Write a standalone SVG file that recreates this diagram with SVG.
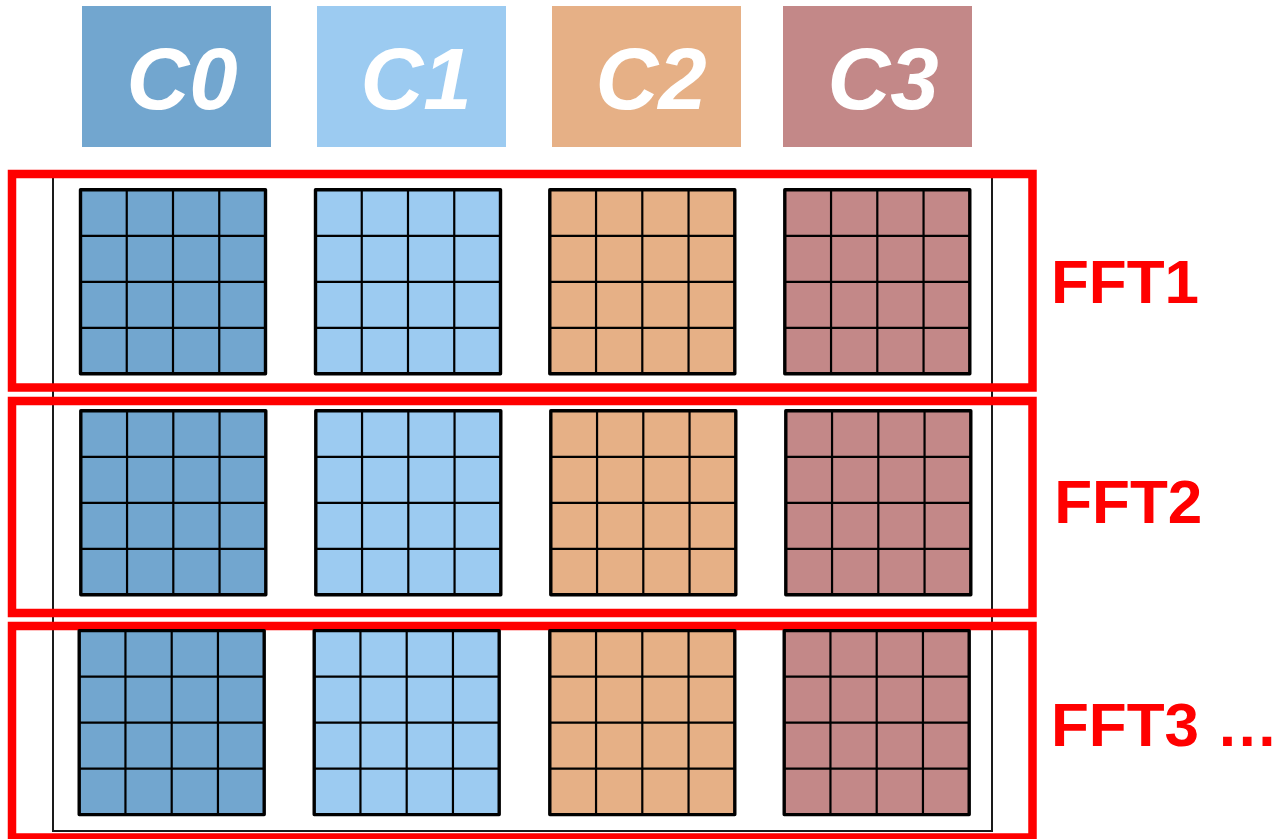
<svg xmlns="http://www.w3.org/2000/svg" xmlns:xlink="http://www.w3.org/1999/xlink" width="1283" height="839" viewBox="0 0 1283 839">
  <style>
    .hdr-text { font-family: "Liberation Sans", Arial, sans-serif; font-weight: bold; font-style: italic; font-size: 87px; fill: #ffffff; text-anchor: middle; }
    .fft { font-family: "Liberation Sans", Arial, sans-serif; font-weight: bold; font-size: 62px; fill: #ff0000; }
    .frame { fill: none; stroke: #ff0000; stroke-width: 8.5; }
    .outer { fill: none; stroke: #1a1a1a; stroke-width: 2; }
    .cell-border { stroke: #000000; stroke-width: 3.4; stroke-linejoin: round; }
    .cell-lines { fill: none; stroke: #000000; stroke-width: 2.2; }
    .c0 { fill: #72a6cf; }
    .c1 { fill: #9ccbf1; }
    .c2 { fill: #e6b086; }
    .c3 { fill: #c38888; }
  </style>
  <defs>
    <!-- 4x4 cell grid, 185 x 184 -->
    <path id="lines" class="cell-lines" d="M46.25 0V184M92.5 0V184M138.75 0V184M0 46H185M0 92H185M0 138H185"/>
    <rect id="box" class="cell-border" x="0" y="0" width="185" height="184"/>
  </defs>

  <rect width="1283" height="839" fill="#ffffff"/>

  <!-- header boxes -->
  <g id="hdr-c0"><rect class="c0" x="82" y="6" width="189" height="141"/><text class="hdr-text" x="182" y="109">C0</text></g>
  <g id="hdr-c1"><rect class="c1" x="317" y="6" width="189" height="141"/><text class="hdr-text" x="416" y="109">C1</text></g>
  <g id="hdr-c2"><rect class="c2" x="552" y="6" width="189" height="141"/><text class="hdr-text" x="651" y="109">C2</text></g>
  <g id="hdr-c3"><rect class="c3" x="783" y="6" width="189" height="141"/><text class="hdr-text" x="883" y="109">C3</text></g>

  <!-- enclosing thin frame -->
  <rect id="outline" class="outer" x="53" y="176" width="939" height="655"/>

  <!-- FFT stage frames -->
  <g id="stages">
    <rect class="frame" x="12" y="174" width="1020.5" height="213.5"/>
    <rect class="frame" x="12" y="401" width="1020.5" height="212"/>
    <rect class="frame" x="12" y="626" width="1020.5" height="211.5"/>
  </g>

  <!-- row 1 -->
  <g id="r1-c0" transform="translate(80.5 189.8)"><use xlink:href="#box" class="c0"/><use xlink:href="#lines"/></g>
  <g id="r1-c1" transform="translate(315.5 189.8)"><use xlink:href="#box" class="c1"/><use xlink:href="#lines"/></g>
  <g id="r1-c2" transform="translate(549.8 189.8)"><use xlink:href="#box" class="c2"/><use xlink:href="#lines"/></g>
  <g id="r1-c3" transform="translate(784.8 189.8)"><use xlink:href="#box" class="c3"/><use xlink:href="#lines"/></g>

  <!-- row 2 -->
  <g id="r2-c0" transform="translate(80.8 410.8)"><use xlink:href="#box" class="c0"/><use xlink:href="#lines"/></g>
  <g id="r2-c1" transform="translate(315.8 410.8)"><use xlink:href="#box" class="c1"/><use xlink:href="#lines"/></g>
  <g id="r2-c2" transform="translate(550.8 410.8)"><use xlink:href="#box" class="c2"/><use xlink:href="#lines"/></g>
  <g id="r2-c3" transform="translate(785.8 410.8)"><use xlink:href="#box" class="c3"/><use xlink:href="#lines"/></g>

  <!-- row 3 -->
  <g id="r3-c0" transform="translate(79.2 630.6)"><use xlink:href="#box" class="c0"/><use xlink:href="#lines"/></g>
  <g id="r3-c1" transform="translate(314.2 630.6)"><use xlink:href="#box" class="c1"/><use xlink:href="#lines"/></g>
  <g id="r3-c2" transform="translate(549.8 630.6)"><use xlink:href="#box" class="c2"/><use xlink:href="#lines"/></g>
  <g id="r3-c3" transform="translate(784.2 630.6)"><use xlink:href="#box" class="c3"/><use xlink:href="#lines"/></g>

  <!-- stage labels -->
  <g id="labels">
    <text class="fft" x="1051" y="302.7">FFT1</text>
    <text class="fft" x="1054.2" y="522.7">FFT2</text>
    <text class="fft" x="1051" y="745.7">FFT3 …</text>
  </g>
</svg>
